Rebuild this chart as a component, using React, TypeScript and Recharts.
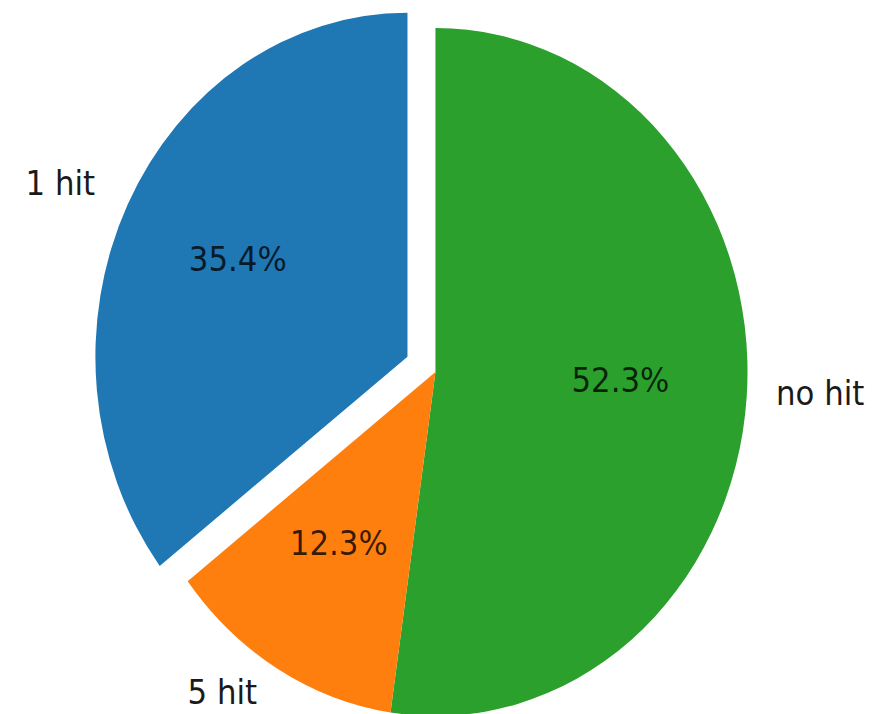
import React from 'react';
import { PieChart, Pie, Cell } from 'recharts';

const labels = ['no hit', '5 hit', '1 hit'];
const shares = [52.3, 12.3, 35.4];
const colors = ['#2ca02c', '#ff7f0e', '#1f77b4'];
const explode = [0, 0, 0.1];

const data = labels.map((name, i) => ({ name, value: shares[i] }));

// the reference is squeezed horizontally, so draw a round pie and scale the x axis
const SX = 0.9072;
const W = 984;
const H = 714;
const CX = 475;
const CY = 367;
const R = 344;
const RADIAN = Math.PI / 180;
const FONT = 'DejaVu Sans, sans-serif';

// start angle of each slice, clockwise from the top
const total = shares.reduce((a, b) => a + b, 0);
const starts = shares.map((_, i) => 90 - (360 * shares.slice(0, i).reduce((a, b) => a + b, 0)) / total);
const mids = shares.map((v, i) => starts[i] - (180 * v) / total);

const makeLabel = (keep: (i: number) => boolean) => (props: any) => {
  const { cx, cy, midAngle, outerRadius, percent, index, name } = props;
  if (!keep(index)) return null;
  const c = Math.cos(-midAngle * RADIAN);
  const s = Math.sin(-midAngle * RADIAN);
  const nx = cx + outerRadius * 1.1 * c;
  const ny = cy + outerRadius * 1.1 * s;
  const px = cx + outerRadius * 0.6 * c;
  const py = cy + outerRadius * 0.6 * s;
  return (
    <g key={`lbl-${index}`}>
      <text x={nx + (c >= 0 ? -2 : -5)} y={ny} dy={-6} textAnchor={c >= 0 ? 'start' : 'end'}
        dominantBaseline="central" fill="#1a1a1a" fontSize={34} fontFamily={FONT}>
        {name}
      </text>
      <text x={px - 2} y={py} dy={-6} textAnchor="middle" dominantBaseline="central"
        fill="#000" fillOpacity={0.78} fontSize={34} fontFamily={FONT}>
        {`${(percent * 100).toFixed(1)}%`}
      </text>
    </g>
  );
};

export default function App() {
  const pies = [0, 1].map((layer) => {
    // layer 0: slices in place, layer 1: exploded slices
    const show = (i: number) => (layer === 0 ? explode[i] === 0 : explode[i] > 0);
    let dx = 0;
    let dy = 0;
    if (layer === 1) {
      const i = explode.findIndex((e) => e > 0);
      dx = R * explode[i] * Math.cos(mids[i] * RADIAN);
      dy = -R * explode[i] * Math.sin(mids[i] * RADIAN);
    }
    return (
      <Pie
        key={layer}
        data={data}
        dataKey="value"
        nameKey="name"
        cx={CX + dx}
        cy={CY + dy}
        outerRadius={R}
        startAngle={90}
        endAngle={-270}
        stroke="none"
        labelLine={false}
        label={makeLabel(show)}
        isAnimationActive={false}
      >
        {data.map((d, i) => (
          <Cell key={d.name} fill={show(i) ? colors[i] : 'none'} />
        ))}
      </Pie>
    );
  });

  return (
    <div style={{ position: 'absolute', left: 0, top: 0, width: 892, height: 714, overflow: 'hidden', background: '#fff' }}>
      <div style={{ width: W, height: H, transform: `scaleX(${SX})`, transformOrigin: '0 0' }}>
        <PieChart width={W} height={H}>
          {pies}
        </PieChart>
      </div>
    </div>
  );
}
